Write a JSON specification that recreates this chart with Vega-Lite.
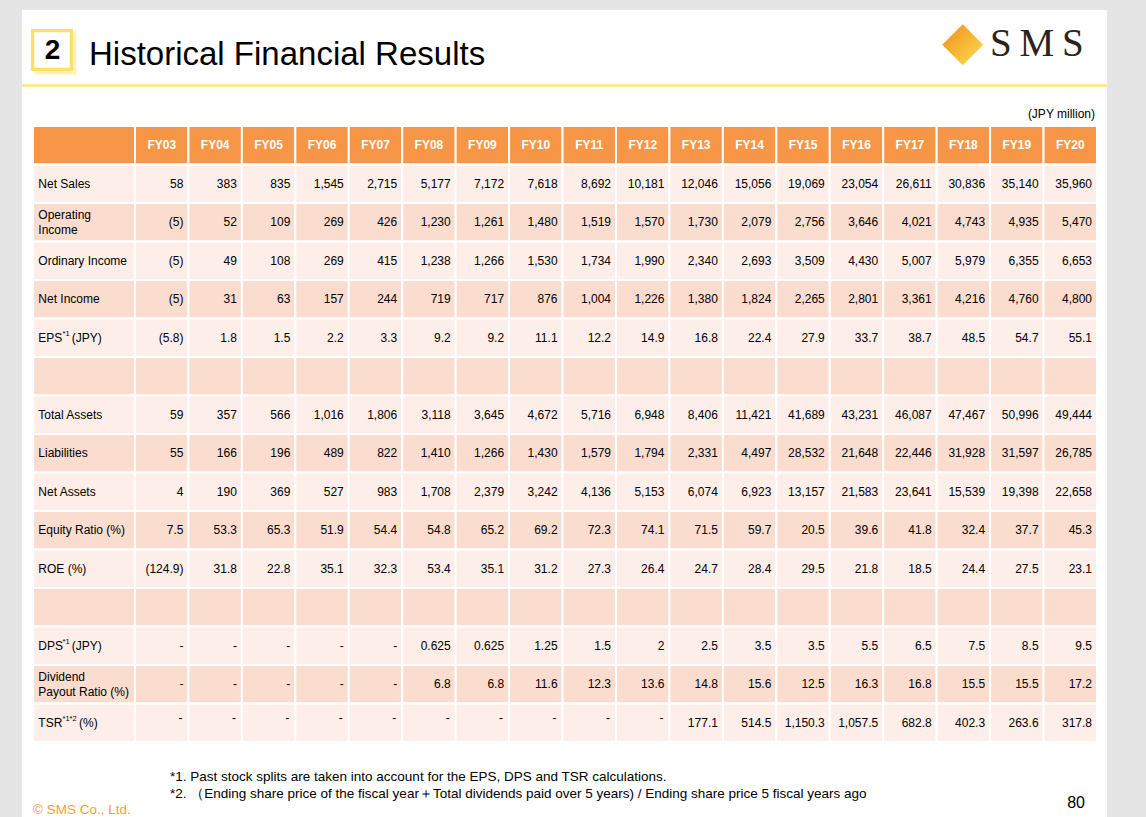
{
  "$schema": "https://vega.github.io/schema/vega-lite/v6.json",
  "width": 1085,
  "height": 807,
  "autosize": {"type": "none"},
  "padding": {"left": 22, "top": 10, "right": 39, "bottom": 0},
  "background": "#e5e5e5",
  "config": {
    "view": {"fill": "white", "stroke": null},
    "text": {"font": "Liberation Sans", "color": "#000000"}
  },
  "datasets": {
    "table": [
      {"row": "hdr", "label": "", "FY03": "FY03", "FY04": "FY04", "FY05": "FY05", "FY06": "FY06", "FY07": "FY07", "FY08": "FY08", "FY09": "FY09", "FY10": "FY10", "FY11": "FY11", "FY12": "FY12", "FY13": "FY13", "FY14": "FY14", "FY15": "FY15", "FY16": "FY16", "FY17": "FY17", "FY18": "FY18", "FY19": "FY19", "FY20": "FY20"},
      {"row": "sales", "label": "Net Sales", "FY03": "58", "FY04": "383", "FY05": "835", "FY06": "1,545", "FY07": "2,715", "FY08": "5,177", "FY09": "7,172", "FY10": "7,618", "FY11": "8,692", "FY12": "10,181", "FY13": "12,046", "FY14": "15,056", "FY15": "19,069", "FY16": "23,054", "FY17": "26,611", "FY18": "30,836", "FY19": "35,140", "FY20": "35,960"},
      {"row": "op", "label": "Operating\nIncome", "FY03": "(5)", "FY04": "52", "FY05": "109", "FY06": "269", "FY07": "426", "FY08": "1,230", "FY09": "1,261", "FY10": "1,480", "FY11": "1,519", "FY12": "1,570", "FY13": "1,730", "FY14": "2,079", "FY15": "2,756", "FY16": "3,646", "FY17": "4,021", "FY18": "4,743", "FY19": "4,935", "FY20": "5,470"},
      {"row": "ord", "label": "Ordinary Income", "FY03": "(5)", "FY04": "49", "FY05": "108", "FY06": "269", "FY07": "415", "FY08": "1,238", "FY09": "1,266", "FY10": "1,530", "FY11": "1,734", "FY12": "1,990", "FY13": "2,340", "FY14": "2,693", "FY15": "3,509", "FY16": "4,430", "FY17": "5,007", "FY18": "5,979", "FY19": "6,355", "FY20": "6,653"},
      {"row": "ni", "label": "Net Income", "FY03": "(5)", "FY04": "31", "FY05": "63", "FY06": "157", "FY07": "244", "FY08": "719", "FY09": "717", "FY10": "876", "FY11": "1,004", "FY12": "1,226", "FY13": "1,380", "FY14": "1,824", "FY15": "2,265", "FY16": "2,801", "FY17": "3,361", "FY18": "4,216", "FY19": "4,760", "FY20": "4,800"},
      {"row": "eps", "label": "EPS", "sup": "*1", "suffix": "(JPY)", "FY03": "(5.8)", "FY04": "1.8", "FY05": "1.5", "FY06": "2.2", "FY07": "3.3", "FY08": "9.2", "FY09": "9.2", "FY10": "11.1", "FY11": "12.2", "FY12": "14.9", "FY13": "16.8", "FY14": "22.4", "FY15": "27.9", "FY16": "33.7", "FY17": "38.7", "FY18": "48.5", "FY19": "54.7", "FY20": "55.1"},
      {"row": "b1", "label": "", "FY03": "", "FY04": "", "FY05": "", "FY06": "", "FY07": "", "FY08": "", "FY09": "", "FY10": "", "FY11": "", "FY12": "", "FY13": "", "FY14": "", "FY15": "", "FY16": "", "FY17": "", "FY18": "", "FY19": "", "FY20": ""},
      {"row": "ta", "label": "Total Assets", "FY03": "59", "FY04": "357", "FY05": "566", "FY06": "1,016", "FY07": "1,806", "FY08": "3,118", "FY09": "3,645", "FY10": "4,672", "FY11": "5,716", "FY12": "6,948", "FY13": "8,406", "FY14": "11,421", "FY15": "41,689", "FY16": "43,231", "FY17": "46,087", "FY18": "47,467", "FY19": "50,996", "FY20": "49,444"},
      {"row": "liab", "label": "Liabilities", "FY03": "55", "FY04": "166", "FY05": "196", "FY06": "489", "FY07": "822", "FY08": "1,410", "FY09": "1,266", "FY10": "1,430", "FY11": "1,579", "FY12": "1,794", "FY13": "2,331", "FY14": "4,497", "FY15": "28,532", "FY16": "21,648", "FY17": "22,446", "FY18": "31,928", "FY19": "31,597", "FY20": "26,785"},
      {"row": "na", "label": "Net Assets", "FY03": "4", "FY04": "190", "FY05": "369", "FY06": "527", "FY07": "983", "FY08": "1,708", "FY09": "2,379", "FY10": "3,242", "FY11": "4,136", "FY12": "5,153", "FY13": "6,074", "FY14": "6,923", "FY15": "13,157", "FY16": "21,583", "FY17": "23,641", "FY18": "15,539", "FY19": "19,398", "FY20": "22,658"},
      {"row": "eq", "label": "Equity Ratio (%)", "FY03": "7.5", "FY04": "53.3", "FY05": "65.3", "FY06": "51.9", "FY07": "54.4", "FY08": "54.8", "FY09": "65.2", "FY10": "69.2", "FY11": "72.3", "FY12": "74.1", "FY13": "71.5", "FY14": "59.7", "FY15": "20.5", "FY16": "39.6", "FY17": "41.8", "FY18": "32.4", "FY19": "37.7", "FY20": "45.3"},
      {"row": "roe", "label": "ROE (%)", "FY03": "(124.9)", "FY04": "31.8", "FY05": "22.8", "FY06": "35.1", "FY07": "32.3", "FY08": "53.4", "FY09": "35.1", "FY10": "31.2", "FY11": "27.3", "FY12": "26.4", "FY13": "24.7", "FY14": "28.4", "FY15": "29.5", "FY16": "21.8", "FY17": "18.5", "FY18": "24.4", "FY19": "27.5", "FY20": "23.1"},
      {"row": "b2", "label": "", "FY03": "", "FY04": "", "FY05": "", "FY06": "", "FY07": "", "FY08": "", "FY09": "", "FY10": "", "FY11": "", "FY12": "", "FY13": "", "FY14": "", "FY15": "", "FY16": "", "FY17": "", "FY18": "", "FY19": "", "FY20": ""},
      {"row": "dps", "label": "DPS", "sup": "*1", "suffix": "(JPY)", "FY03": "-", "FY04": "-", "FY05": "-", "FY06": "-", "FY07": "-", "FY08": "0.625", "FY09": "0.625", "FY10": "1.25", "FY11": "1.5", "FY12": "2", "FY13": "2.5", "FY14": "3.5", "FY15": "3.5", "FY16": "5.5", "FY17": "6.5", "FY18": "7.5", "FY19": "8.5", "FY20": "9.5"},
      {"row": "payout", "label": "Dividend\nPayout Ratio (%)", "FY03": "-", "FY04": "-", "FY05": "-", "FY06": "-", "FY07": "-", "FY08": "6.8", "FY09": "6.8", "FY10": "11.6", "FY11": "12.3", "FY12": "13.6", "FY13": "14.8", "FY14": "15.6", "FY15": "12.5", "FY16": "16.3", "FY17": "16.8", "FY18": "15.5", "FY19": "15.5", "FY20": "17.2"},
      {"row": "tsr", "label": "TSR", "sup": "*1*2", "suffix": "(%)", "FY03": "-", "FY04": "-", "FY05": "-", "FY06": "-", "FY07": "-", "FY08": "-", "FY09": "-", "FY10": "-", "FY11": "-", "FY12": "-", "FY13": "177.1", "FY14": "514.5", "FY15": "1,150.3", "FY16": "1,057.5", "FY17": "682.8", "FY18": "402.3", "FY19": "263.6", "FY20": "317.8"}
    ]
  },
  "resolve": {"scale": {"x": "independent"}},
  "layer": [
    {
      "layer": [
        {
          "data": {"name": "table"},
          "mark": {"type": "rect", "stroke": "white", "strokeWidth": 2},
          "encoding": {
            "x": {"datum": "label", "type": "nominal", "scale": {"type": "band", "domain": ["label"], "range": [11, 113], "paddingInner": 0, "paddingOuter": 0}, "axis": null},
            "y": {"field": "row", "type": "nominal", "scale": {"type": "band", "domain": ["hdr", "sales", "op", "ord", "ni", "eps", "b1", "ta", "liab", "na", "eq", "roe", "b2", "dps", "payout", "tsr"], "range": [116, 732], "paddingInner": 0, "paddingOuter": 0}, "axis": null},
            "color": {"field": "row", "type": "nominal", "scale": {"domain": ["hdr", "sales", "op", "ord", "ni", "eps", "b1", "ta", "liab", "na", "eq", "roe", "b2", "dps", "payout", "tsr"], "range": ["#f79646", "#fdeee9", "#fbddd0", "#fdeee9", "#fbddd0", "#fdeee9", "#fbddd0", "#fdeee9", "#fbddd0", "#fdeee9", "#fbddd0", "#fdeee9", "#fbddd0", "#fdeee9", "#fbddd0", "#fdeee9"]}, "legend": null}
          }
        },
        {
          "data": {"name": "table"},
          "transform": [{"filter": "indexof(datum.label, '\\n') < 0"}],
          "mark": {"type": "text", "align": "left", "baseline": "middle", "dx": 5.3, "fontSize": 12},
          "encoding": {
            "x": {"datum": "label", "type": "nominal", "bandPosition": 0},
            "y": {"field": "row", "type": "nominal"},
            "text": {"field": "label", "type": "nominal"}
          }
        },
        {
          "data": {"name": "table"},
          "transform": [{"filter": "indexof(datum.label, '\\n') >= 0"}],
          "mark": {"type": "text", "align": "left", "baseline": "middle", "dx": 5.3, "dy": -7.5, "fontSize": 12, "lineBreak": "\n", "lineHeight": 15},
          "encoding": {
            "x": {"datum": "label", "type": "nominal", "bandPosition": 0},
            "y": {"field": "row", "type": "nominal"},
            "text": {"field": "label", "type": "nominal"}
          }
        },
        {
          "data": {"name": "table"},
          "transform": [{"filter": "isValid(datum.sup)"}],
          "mark": {"type": "text", "align": "left", "baseline": "middle", "dx": 29.5, "dy": -3.5, "fontSize": 7.5},
          "encoding": {
            "x": {"datum": "label", "type": "nominal", "bandPosition": 0},
            "y": {"field": "row", "type": "nominal"},
            "text": {"field": "sup", "type": "nominal"}
          }
        },
        {
          "data": {"name": "table"},
          "transform": [{"filter": "isValid(datum.suffix) && datum.row != 'tsr'"}],
          "mark": {"type": "text", "align": "left", "baseline": "middle", "dx": 38.7, "fontSize": 12},
          "encoding": {
            "x": {"datum": "label", "type": "nominal", "bandPosition": 0},
            "y": {"field": "row", "type": "nominal"},
            "text": {"field": "suffix", "type": "nominal"}
          }
        },
        {
          "data": {"name": "table"},
          "transform": [{"filter": "datum.row == 'tsr'"}],
          "mark": {"type": "text", "align": "left", "baseline": "middle", "dx": 46, "fontSize": 12},
          "encoding": {
            "x": {"datum": "label", "type": "nominal", "bandPosition": 0},
            "y": {"field": "row", "type": "nominal"},
            "text": {"field": "suffix", "type": "nominal"}
          }
        },
        {
          "data": {"values": [{}]},
          "mark": {"type": "rule", "color": "#ffe47a", "strokeWidth": 2.5},
          "encoding": {
            "y": {"datum": "hdr", "type": "nominal", "bandPosition": -1.052}
          }
        },
        {
          "data": {"values": [{}]},
          "mark": {"type": "point", "shape": "square", "size": 1500, "filled": true, "opacity": 1, "fill": "#fff1bf", "stroke": "#fff1bf", "strokeWidth": 3.3},
          "encoding": {
            "x": {"datum": "label", "type": "nominal", "bandPosition": 0.2206},
            "y": {"datum": "hdr", "type": "nominal", "bandPosition": -1.883}
          }
        },
        {
          "data": {"values": [{}]},
          "mark": {"type": "point", "shape": "square", "size": 1500, "filled": true, "opacity": 1, "fill": "white", "stroke": "#ffe066", "strokeWidth": 3.3},
          "encoding": {
            "x": {"datum": "label", "type": "nominal", "bandPosition": 0.1863},
            "y": {"datum": "hdr", "type": "nominal", "bandPosition": -1.974}
          }
        },
        {
          "data": {"values": [{}]},
          "mark": {"type": "text", "text": "2", "align": "center", "baseline": "alphabetic", "dx": 19.5, "dy": -67, "fontSize": 28, "fontWeight": "bold"},
          "encoding": {
            "x": {"datum": "label", "type": "nominal", "bandPosition": 0},
            "y": {"datum": "hdr", "type": "nominal", "bandPosition": 0}
          }
        },
        {
          "data": {"values": [{}]},
          "mark": {"type": "text", "text": "Historical Financial Results", "align": "left", "baseline": "alphabetic", "dx": 56, "dy": -61, "fontSize": 33},
          "encoding": {
            "x": {"datum": "label", "type": "nominal", "bandPosition": 0},
            "y": {"datum": "hdr", "type": "nominal", "bandPosition": 0}
          }
        },
        {
          "data": {"values": [{}]},
          "mark": {"type": "text", "text": "© SMS Co., Ltd.", "align": "left", "baseline": "middle", "dx": 0, "dy": 68, "fontSize": 13.5, "color": "#f4a236"},
          "encoding": {
            "x": {"datum": "label", "type": "nominal", "bandPosition": 0},
            "y": {"datum": "tsr", "type": "nominal", "bandPosition": 1}
          }
        },
        {
          "data": {"values": [{}]},
          "mark": {"type": "text", "text": ["*1. Past stock splits are taken into account for the EPS, DPS and TSR calculations.", "*2. （Ending share price of the fiscal year＋Total dividends paid over 5 years) / Ending share price 5 fiscal years ago"], "align": "left", "baseline": "alphabetic", "dx": 137, "dy": 39, "fontSize": 13.5, "lineHeight": 17},
          "encoding": {
            "x": {"datum": "label", "type": "nominal", "bandPosition": 0},
            "y": {"datum": "tsr", "type": "nominal", "bandPosition": 1}
          }
        }
      ]
    },
    {
      "layer": [
        {
          "data": {"name": "table"},
          "transform": [{"fold": ["FY03", "FY04", "FY05", "FY06", "FY07", "FY08", "FY09", "FY10", "FY11", "FY12", "FY13", "FY14", "FY15", "FY16", "FY17", "FY18", "FY19", "FY20"], "as": ["col", "val"]}],
          "mark": {"type": "rect", "stroke": "white", "strokeWidth": 2},
          "encoding": {
            "x": {"field": "col", "type": "nominal", "scale": {"type": "band", "domain": ["FY03", "FY04", "FY05", "FY06", "FY07", "FY08", "FY09", "FY10", "FY11", "FY12", "FY13", "FY14", "FY15", "FY16", "FY17", "FY18", "FY19", "FY20"], "range": [113, 1075], "paddingInner": 0, "paddingOuter": 0}, "axis": null},
            "y": {"field": "row", "type": "nominal"},
            "color": {"field": "row", "type": "nominal", "legend": null}
          }
        },
        {
          "data": {"name": "table"},
          "transform": [
            {"fold": ["FY03", "FY04", "FY05", "FY06", "FY07", "FY08", "FY09", "FY10", "FY11", "FY12", "FY13", "FY14", "FY15", "FY16", "FY17", "FY18", "FY19", "FY20"], "as": ["col", "val"]},
            {"filter": {"field": "row", "equal": "hdr"}}
          ],
          "mark": {"type": "text", "align": "center", "baseline": "middle", "fontSize": 12, "fontWeight": "bold", "color": "white"},
          "encoding": {
            "x": {"field": "col", "type": "nominal"},
            "y": {"field": "row", "type": "nominal"},
            "text": {"field": "val", "type": "nominal"}
          }
        },
        {
          "data": {"name": "table"},
          "transform": [
            {"fold": ["FY03", "FY04", "FY05", "FY06", "FY07", "FY08", "FY09", "FY10", "FY11", "FY12", "FY13", "FY14", "FY15", "FY16", "FY17", "FY18", "FY19", "FY20"], "as": ["col", "val"]},
            {"filter": "datum.row != 'hdr' && !(datum.row == 'tsr' && datum.val == '-')"}
          ],
          "mark": {"type": "text", "align": "right", "baseline": "middle", "dx": -5, "fontSize": 12},
          "encoding": {
            "x": {"field": "col", "type": "nominal", "bandPosition": 1},
            "y": {"field": "row", "type": "nominal"},
            "text": {"field": "val", "type": "nominal"}
          }
        },
        {
          "data": {"name": "table"},
          "transform": [
            {"fold": ["FY03", "FY04", "FY05", "FY06", "FY07", "FY08", "FY09", "FY10", "FY11", "FY12", "FY13", "FY14", "FY15", "FY16", "FY17", "FY18", "FY19", "FY20"], "as": ["col", "val"]},
            {"filter": "datum.row == 'tsr' && datum.val == '-'"}
          ],
          "mark": {"type": "text", "align": "right", "baseline": "middle", "dx": -6, "dy": -5, "fontSize": 12},
          "encoding": {
            "x": {"field": "col", "type": "nominal", "bandPosition": 1},
            "y": {"field": "row", "type": "nominal"},
            "text": {"field": "val", "type": "nominal"}
          }
        },
        {
          "data": {"values": [{}]},
          "mark": {"type": "text", "text": "(JPY million)", "align": "right", "baseline": "middle", "dx": -2, "dy": -12.5, "fontSize": 12},
          "encoding": {
            "x": {"datum": "FY20", "type": "nominal", "bandPosition": 1},
            "y": {"datum": "hdr", "type": "nominal", "bandPosition": 0}
          }
        },
        {
          "data": {"values": [{}]},
          "mark": {"type": "text", "text": "80", "align": "right", "baseline": "middle", "dx": -12, "dy": 61, "fontSize": 16},
          "encoding": {
            "x": {"datum": "FY20", "type": "nominal", "bandPosition": 1},
            "y": {"datum": "tsr", "type": "nominal", "bandPosition": 1}
          }
        },
        {
          "data": {"values": [{}]},
          "mark": {"type": "point", "shape": "diamond", "size": 1681, "filled": true, "opacity": 1, "strokeWidth": 0, "fill": {"gradient": "linear", "x1": 0, "y1": 0, "x2": 1, "y2": 1, "stops": [{"offset": 0, "color": "#ee8c1e"}, {"offset": 0.5, "color": "#f7b535"}, {"offset": 1, "color": "#fddf55"}]}},
          "encoding": {
            "x": {"datum": "FY18", "type": "nominal", "bandPosition": 0.488},
            "y": {"datum": "hdr", "type": "nominal", "bandPosition": -2.112}
          }
        },
        {
          "data": {"values": [{}]},
          "mark": {"type": "text", "text": "S\u2009M\u2009S", "align": "left", "baseline": "alphabetic", "dx": 0, "dy": -70, "fontSize": 39, "font": "Liberation Serif", "color": "#2a2320"},
          "encoding": {
            "x": {"datum": "FY19", "type": "nominal", "bandPosition": 0},
            "y": {"datum": "hdr", "type": "nominal", "bandPosition": 0}
          }
        }
      ]
    }
  ]
}
